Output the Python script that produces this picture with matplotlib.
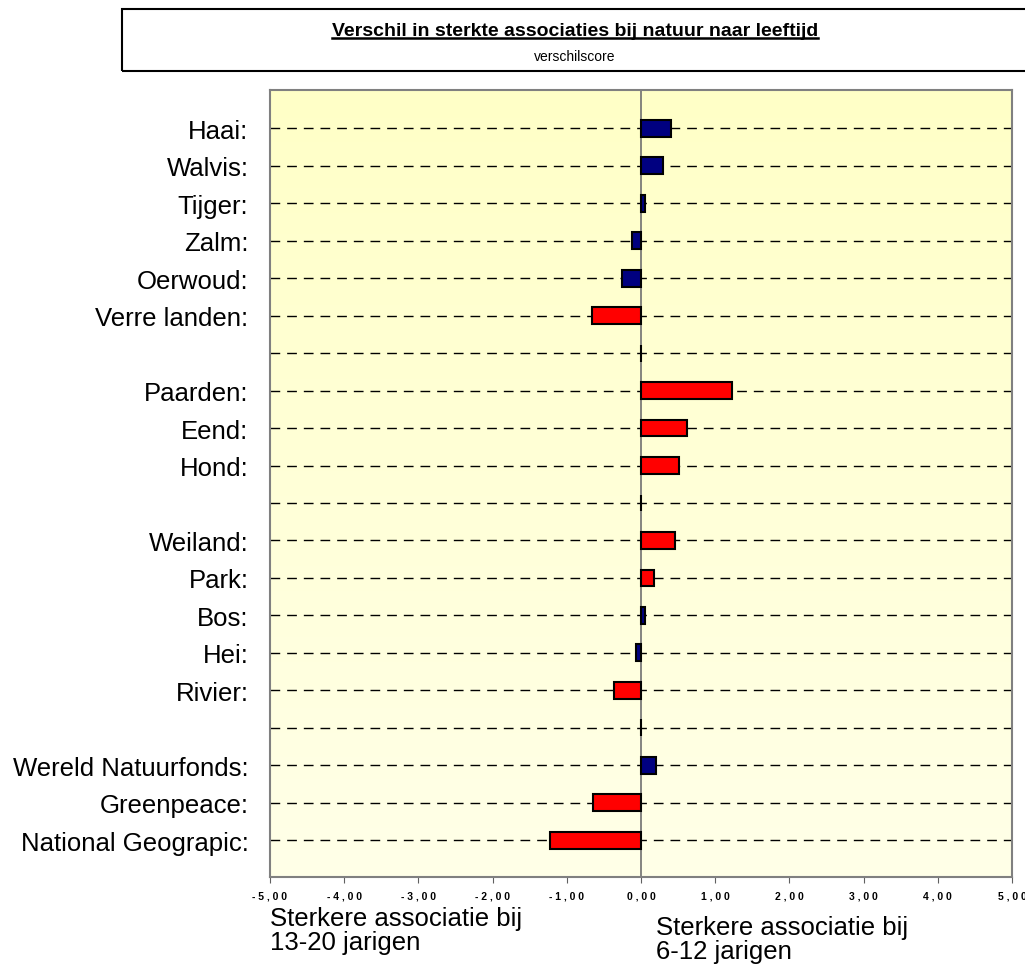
import numpy as np
import matplotlib
matplotlib.use('Agg')
import matplotlib.pyplot as plt
from matplotlib.lines import Line2D
from matplotlib.patches import Rectangle

plt.rcParams['font.family'] = ['Liberation Sans', 'DejaVu Sans']

# gegevens (lege strings zijn lege rijen tussen de groepen)
labels = ["Haai:", "Walvis:", "Tijger:", "Zalm:", "Oerwoud:", "Verre landen:", "",
          "Paarden:", "Eend:", "Hond:", "",
          "Weiland:", "Park:", "Bos:", "Hei:", "Rivier:", "",
          "Wereld Natuurfonds:", "Greenpeace:", "National Geograpic:"]
waarden = [0.40, 0.29, 0.06, -0.12, -0.26, -0.66, np.nan,
           1.23, 0.62, 0.51, np.nan,
           0.46, 0.18, 0.06, -0.07, -0.37, np.nan,
           0.20, -0.65, -1.23]
kleur = ["b", "b", "b", "b", "b", "r", "",
         "r", "r", "r", "",
         "r", "r", "b", "b", "r", "",
         "b", "r", "r"]
xticks = [-5, -4, -3, -2, -1, 0, 1, 2, 3, 4, 5]

kleuren = {"b": "#000080", "r": "#FF0000", "": "none"}

fig = plt.figure(figsize=(10.25, 9.79), dpi=100)
ax = fig.add_axes([270 / 1025, 101 / 979, 742 / 1025, 787 / 979])

# achtergrond met verloop
grad = np.linspace(0, 1, 256).reshape(-1, 1)
top = np.array([1.0, 1.0, 0.78])
bot = np.array([1.0, 1.0, 0.91])
img = top + (bot - top) * grad
ax.imshow(img.reshape(256, 1, 3), extent=[0, 1, 0, 1], transform=ax.transAxes,
          aspect='auto', zorder=0)

y = np.arange(len(labels))
for yi in y:
    ax.axhline(yi, color='black', lw=1.0, ls=(0, (7, 5)), zorder=1)
ax.axvline(0, color='#707070', lw=1.2, zorder=2)

w = np.nan_to_num(np.array(waarden))
ax.barh(y, w, height=0.45, color=[kleuren[k] for k in kleur],
        edgecolor='black', linewidth=1.5, zorder=3)

ax.set_xlim(-5, 5)
ax.set_ylim(len(labels) - 0.02, -1.02)
ax.set_yticks(y)
ax.set_yticklabels(labels, fontsize=18.5)
ax.tick_params(axis='y', length=0, pad=15.5)
ax.set_xticks(xticks)
ax.set_xticklabels([" ".join(f"{v:.2f}".replace(".", ",")) for v in xticks],
                   fontsize=7.5, fontweight='bold')
ax.tick_params(axis='x', length=4, color='#606060', pad=6)

for s in ['left', 'right', 'bottom', 'top']:
    ax.spines[s].set_color('#808080')
    ax.spines[s].set_linewidth(1.5)

# titelkader
fig.patches.append(Rectangle((122 / 1025, (979 - 72) / 979), 910 / 1025, 62 / 979,
                             transform=fig.transFigure, fill=False, edgecolor='black',
                             linewidth=1.5))
t = fig.text(575 / 1025, 1 - 31 / 979, "Verschil in sterkte associaties bij natuur naar leeftijd",
             ha='center', va='center', fontsize=14, fontweight='bold')
fig.text(575 / 1025, 1 - 57 / 979, "verschilscore", ha='center', va='center', fontsize=10)

fig.text(270 / 1025, 1 - 931 / 979, "Sterkere associatie bij\n13-20 jarigen",
         ha='left', va='center', fontsize=18.5, linespacing=0.95)
fig.text(656 / 1025, 1 - 940 / 979, "Sterkere associatie bij\n6-12 jarigen",
         ha='left', va='center', fontsize=18.5, linespacing=0.95)

# onderstreping van de titel
fig.canvas.draw()
bb = t.get_window_extent()
yl = bb.y0 + 1
fig.lines.append(Line2D([bb.x0 / 1025, bb.x1 / 1025], [yl / 979, yl / 979],
                        transform=fig.transFigure, color='black', lw=1.8))

fig.savefig("out.png", dpi=100)
